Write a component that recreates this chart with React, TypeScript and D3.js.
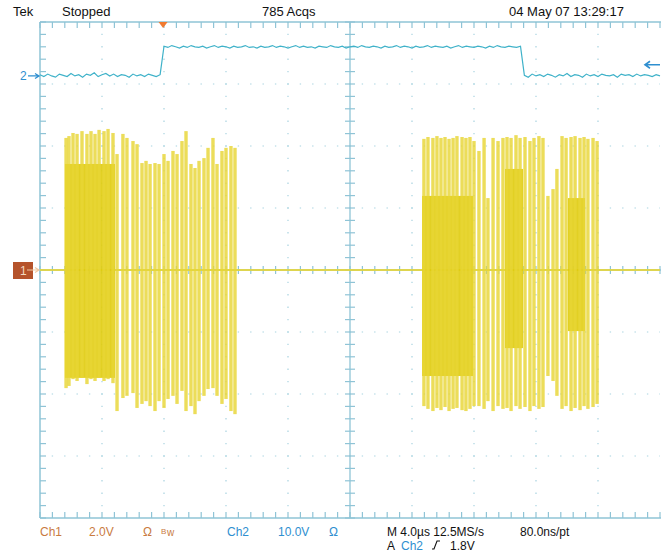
import React from "react";
import * as d3 from "d3";

// ---- Data (time in µs, voltage in V) ----
// Channel 1 burst pulses: time, positive peak, negative peak
const pulseTime = [
  1.68, 1.87, 2.13, 2.39, 2.71, 3.03, 3.29, 3.55, 3.81, 4.13, 4.39, 4.71, 4.97, 5.35, 5.61, 6.0, 6.26,
  6.58, 6.84, 7.1, 7.42, 7.68, 8.0, 8.26, 8.58, 8.84, 9.16, 9.42, 9.74, 10.0, 10.26, 10.58, 10.84,
  11.16, 11.42, 11.74, 12.0, 12.32, 12.58,
  24.77, 25.03, 25.35, 25.61, 25.87, 26.13, 26.39, 26.65, 26.9, 27.23, 27.48, 27.74, 28.0, 28.32,
  28.65, 28.9, 29.23, 29.55, 29.87, 30.13, 30.39, 30.71, 30.97, 31.29, 31.61, 31.87, 32.19, 32.45,
  32.77, 33.1, 33.35, 33.68, 33.94, 34.26, 34.52, 34.84, 35.1, 35.35, 35.68, 35.94,
];
const pulseHigh = [
  4.26, 4.32, 4.42, 4.39, 4.48, 4.39, 4.48, 4.39, 4.52, 4.48, 4.55, 4.42, 3.74, 4.39, 4.26, 4.16, 4.06,
  3.45, 3.52, 3.42, 3.45, 3.42, 3.74, 3.52, 3.84, 3.74, 4.16, 4.48, 3.42, 3.29, 3.52, 3.61, 3.94,
  4.26, 3.42, 3.84, 3.94, 4.0, 3.94,
  4.23, 4.29, 4.26, 4.32, 4.26, 4.29, 4.23, 4.26, 4.32, 4.29, 4.26, 4.29, 4.16, 3.84,
  4.26, 2.32, 4.26, 4.16, 4.26, 4.29, 4.26, 4.35, 4.26, 4.29, 4.16, 4.26, 4.32, 4.26,
  2.39, 2.61, 3.26, 4.32, 4.26, 4.29, 4.32, 4.26, 4.29, 4.23, 4.26, 4.16,
];
const pulseLow = [
  -3.81, -3.74, -3.52, -3.58, -3.48, -3.68, -3.52, -3.58, -3.48, -3.58, -3.52, -3.65, -4.55, -4.13, -4.06, -3.97, -4.45,
  -4.32, -4.23, -4.39, -4.55, -4.23, -4.45, -4.16, -4.06, -4.32, -3.9, -4.55, -4.39, -4.65, -4.23, -4.06, -3.84,
  -3.81, -4.06, -4.32, -4.16, -4.55, -4.65,
  -4.39, -4.48, -4.55, -4.45, -4.52, -4.42, -4.55, -4.48, -4.45, -4.52, -4.55, -4.48, -4.39, -4.39,
  -4.48, -4.23, -4.55, -4.39, -4.48, -4.45, -4.55, -4.39, -4.48, -4.42, -4.55, -4.39, -4.48, -4.42,
  -3.42, -3.58, -4.06, -4.48, -4.39, -4.55, -4.45, -4.52, -4.39, -4.48, -4.42, -4.32,
];
// Dense (overlapping acquisitions) blocks of channel 1
const blockStart = [1.61, 24.65, 30.0, 34.06];
const blockEnd = [4.84, 27.94, 31.16, 35.16];
const blockHigh = [3.42, 2.39, 3.26, 2.32];
const blockLow = [-3.48, -3.42, -2.52, -1.97];

// Channel 2 samples, every 0.25 µs from 0 to 40 µs
const ch2SampleStep = 0.25;
const ch2Volts = [
  0.2, -0.1, 0.3, 0.0, -0.2, 0.3, 0.1, -0.1, 0.4, 0.0, 0.2, -0.2, 0.3, 0.1, 0.5, -0.1, 0.2, 0.4, 0.0, 0.3,
  -0.1, 0.2, 0.1, -0.2, 0.3, 0.0, 0.2, -0.1, 0.3, 0.1, -0.1, 0.2,
  4.8, 4.6, 4.9, 4.7, 4.5, 4.8, 4.6, 4.9, 4.7, 4.6, 4.8, 4.5, 4.7, 4.9, 4.6, 4.8, 4.7, 4.5, 4.8, 4.6,
  4.7, 4.9, 4.6, 4.7, 4.5, 4.8, 4.6, 4.7, 4.9, 4.6, 4.8, 4.7, 4.5, 4.7, 4.9, 4.6, 4.8, 4.6, 4.7, 4.5,
  4.8, 4.7, 4.6, 4.9, 4.7, 4.6, 4.8, 4.5, 4.7, 4.8, 4.6, 4.9, 4.7, 4.6, 4.8, 4.7, 4.5, 4.8, 4.6, 4.7,
  4.9, 4.6, 4.8, 4.7, 4.5, 4.8, 4.6, 4.7, 4.9, 4.6, 4.8, 4.7, 4.6, 4.8, 4.5, 4.7, 4.9, 4.6, 4.8, 4.7,
  4.6, 4.8, 4.7, 4.5, 4.8, 4.6, 4.9, 4.7, 4.6, 4.8, 4.7, 4.6, 4.8,
  0.1, -0.2, 0.3, 0.0, 0.2, -0.1, 0.3, 0.1, -0.2, 0.2, 0.0, 0.4, -0.1, 0.2, 0.1, -0.2, 0.3, 0.0, 0.2, -0.1,
  0.3, 0.1, 0.0, 0.2, -0.2, 0.3, 0.1, 0.2, -0.1, 0.3, 0.0, 0.2, 0.1, -0.1, 0.2, 0.0,
];

const headerTexts = ["Tek", "Stopped", "785 Acqs", "04 May 07 13:29:17"];
const ch1VoltsPerDiv = 2;
const ch2VoltsPerDiv = 10;
const ch2TriggerLevel = 1.8;
const triggerTime = 7.94;

// ---- Layout ----
const W = 661, H = 552;
const L = 40, R = 660, T = 22, B = 518;
const ch1Pos = 0; // divisions
const ch2Pos = 3.13;

const GRID = "#8fc4d6";
const DOT = "#a8d3e0";
const YEL = "#e8d636";
const YEL_D = "#dfcb0c";
const CYAN = "#3fb2c9";
const ORANGE = "#c97b3f";
const BLUE = "#2f8fd0";
const FONT = "'Liberation Sans Narrow', 'Liberation Sans', Arial, sans-serif";

export default function App() {
  const x = d3.scaleLinear().domain([0, 40]).range([L, R]);
  const yDiv = d3.scaleLinear().domain([-4, 4]).range([B, T]);
  const y1 = (v: number) => yDiv(v / ch1VoltsPerDiv + ch1Pos);
  const y2 = (v: number) => yDiv(v / ch2VoltsPerDiv + ch2Pos);

  const minorX = d3.range(0, 50 + 1).map((i) => x(i * 0.8));
  const minorY = d3.range(0, 40 + 1).map((i) => yDiv(-4 + i * 0.2));
  const majorX = d3.range(1, 10).filter((i) => i !== 5).map((i) => x(i * 4));
  const majorY = d3.range(-3, 4).filter((i) => i !== 0).map((i) => yDiv(i));
  const cx = x(20);
  const cy = yDiv(0);

  const ch2Line = d3
    .line<number>()
    .x((_, i) => x(i * ch2SampleStep))
    .y((v) => y2(v));

  const ch1Base = y1(0);

  return (
    <svg width={W} height={H} style={{ position: "absolute", left: 0, top: 0, background: "#fff" }}>
      <rect width={W} height={H} fill="#fff" />
      {/* dotted grid */}
      {majorX.map((gx, i) => (
        <line key={"gx" + i} x1={gx} x2={gx} y1={T} y2={B} stroke={DOT} strokeWidth={1.2}
          strokeDasharray="1.4 11" strokeDashoffset={0.7} />
      ))}
      {majorY.map((gy, i) => (
        <line key={"gy" + i} x1={L} x2={R} y1={gy} y2={gy} stroke={DOT} strokeWidth={1.2}
          strokeDasharray="1.4 11" strokeDashoffset={0.7} />
      ))}
      {/* borders */}
      <line x1={L} x2={L} y1={T} y2={B} stroke={GRID} strokeWidth={1.5} />
      <line x1={L} x2={W} y1={T} y2={T} stroke={GRID} strokeWidth={1.5} />
      <line x1={L} x2={W} y1={B} y2={B} stroke={GRID} strokeWidth={1.5} />
      <line x1={cx} x2={cx} y1={T} y2={B} stroke={GRID} strokeWidth={1.3} />
      <line x1={L} x2={W} y1={cy} y2={cy} stroke={GRID} strokeWidth={1.3} />
      {/* minor ticks */}
      {minorX.map((mx, i) => (
        <g key={"mx" + i} stroke={GRID} strokeWidth={1.2}>
          <line x1={mx} x2={mx} y1={T} y2={T + 6} />
          <line x1={mx} x2={mx} y1={B} y2={B - 6} />
          <line x1={mx} x2={mx} y1={cy - 4} y2={cy + 4} />
        </g>
      ))}
      {minorY.map((my, i) => (
        <g key={"my" + i} stroke={GRID} strokeWidth={1.2}>
          <line x1={L} x2={L + 6} y1={my} y2={my} />
          <line x1={cx - 5} x2={cx + 5} y1={my} y2={my} />
        </g>
      ))}

      {/* channel 1 baseline */}
      <line x1={L} x2={R} y1={ch1Base} y2={ch1Base} stroke={YEL} strokeWidth={2} opacity={0.85} />
      {/* channel 1 dense blocks */}
      {blockStart.map((s, i) => (
        <rect key={"b" + i} x={x(s)} width={x(blockEnd[i]) - x(s)} y={y1(blockHigh[i])}
          height={y1(blockLow[i]) - y1(blockHigh[i])} fill={YEL_D} opacity={0.9} />
      ))}
      {/* channel 1 pulses */}
      {pulseTime.map((t, i) => (
        <rect key={"p" + i} x={x(t) - 1.7} width={3.4} y={y1(pulseHigh[i])}
          height={y1(pulseLow[i]) - y1(pulseHigh[i])} fill={YEL} opacity={0.82} />
      ))}

      {/* channel 2 trace */}
      <path d={ch2Line(ch2Volts) || ""} fill="none" stroke={CYAN} strokeWidth={1.2} />

      {/* markers */}
      <rect x={13} y={ch1Base - 8} width={20} height={17} fill="#b5532b" />
      <text x={20} y={ch1Base + 4.5} fontFamily={FONT} fontSize={12} fill="#f3d9c0">1</text>
      <path d={`M27 ${ch1Base} L38 ${ch1Base} M35 ${ch1Base - 2.5} L39 ${ch1Base} L35 ${ch1Base + 2.5}`}
        stroke="#f0c8a0" strokeWidth={1.2} fill="none" />
      <text x={20} y={y2(0) + 4.5} fontFamily={FONT} fontSize={12} fill={BLUE}>2</text>
      <path d={`M28 ${y2(0)} L38 ${y2(0)} M35 ${y2(0) - 2.5} L39 ${y2(0)} L35 ${y2(0) + 2.5}`}
        stroke={BLUE} strokeWidth={1.3} fill="none" />
      <path d={`M646 ${y2(ch2TriggerLevel)} L660 ${y2(ch2TriggerLevel)} M650 ${y2(ch2TriggerLevel) - 3.5} L645 ${y2(ch2TriggerLevel)} L650 ${y2(ch2TriggerLevel) + 3.5}`}
        stroke={BLUE} strokeWidth={1.6} fill="none" />
      <path d={`M${x(triggerTime) - 4.5} ${T} L${x(triggerTime) + 4.5} ${T} L${x(triggerTime)} ${T + 6} Z`} fill="#f07a30" />

      {/* header */}
      <g fontFamily={FONT} fontSize={13} fill="#111">
        <text x={13} y={16}>{headerTexts[0]}</text>
        <text x={62} y={16}>{headerTexts[1]}</text>
        <text x={262} y={16}>{headerTexts[2]}</text>
        <text x={509} y={16}>{headerTexts[3]}</text>
      </g>
      {/* footer */}
      <g fontFamily={FONT} fontSize={12}>
        <text x={40} y={536} fill={ORANGE}>Ch1</text>
        <text x={89} y={536} fill={ORANGE}>2.0V</text>
        <text x={143} y={536} fill={ORANGE}>Ω</text>
        <text x={161} y={534} fill={ORANGE} fontSize={8}>B</text>
        <text x={167} y={536} fill={ORANGE} fontSize={10}>w</text>
        <text x={227} y={536} fill={BLUE}>Ch2</text>
        <text x={278} y={536} fill={BLUE}>10.0V</text>
        <text x={329} y={536} fill={BLUE}>Ω</text>
        <text x={387} y={536} fill="#111">M 4.0µs 12.5MS/s</text>
        <text x={520} y={536} fill="#111">80.0ns/pt</text>
        <text x={387} y={550} fill="#111">A</text>
        <text x={401} y={550} fill={BLUE}>Ch2</text>
        <path d="M432 549 L434 549 L437 541 L440 541" stroke="#111" strokeWidth={1.1} fill="none" />
        <text x={450} y={550} fill="#111">1.8V</text>
      </g>
    </svg>
  );
}
